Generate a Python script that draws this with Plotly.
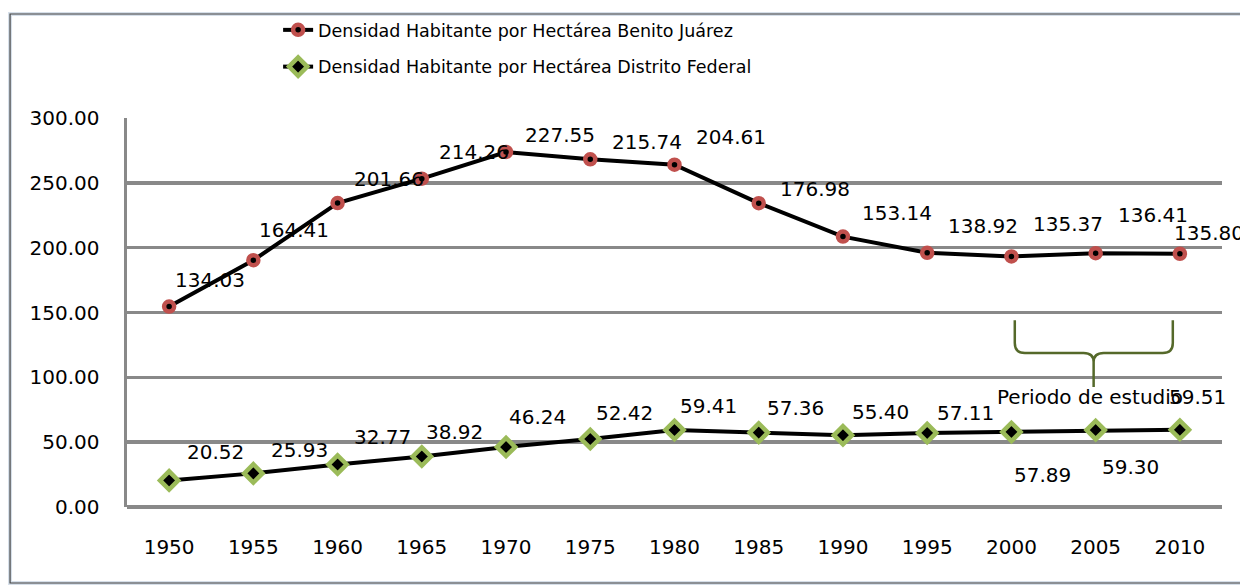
import plotly.graph_objects as go

# ---- data ----
years = [1950, 1955, 1960, 1965, 1970, 1975, 1980, 1985, 1990, 1995, 2000, 2005, 2010]
year_labels = [str(y) for y in years]
# Stacked line chart: Benito Juárez values are stacked on top of Distrito Federal
bj_density = [134.03, 164.41, 201.66, 214.26, 227.55, 215.74, 204.61, 176.98, 153.14, 138.92, 135.37, 136.41, 135.80]
df_density = [20.52, 25.93, 32.77, 38.92, 46.24, 52.42, 59.41, 57.36, 55.40, 57.11, 57.89, 59.30, 59.51]
y_ticks = [0, 50, 100, 150, 200, 250, 300]

name_bj = "Densidad Habitante por Hectárea Benito Juárez"
name_df = "Densidad Habitante por Hectárea Distrito Federal"

# ---- label pixel offsets (style / position, not data) ----
bj_dx = [41, 41, 51, 52, 54, 57, 56, 56, 54, 56, 57, 57, 29]
bj_dy = [-27, -30, -24, -27, -17, -17, -28, -14, -24, -27, -32, -38, -21]
df_dx = [46, 46, 45, 33, 31, 34, 34, 37, 38, 38, 31, 35, 18]
df_dy = [-28, -23, -28, -25, -30, -26, -24, -25, -23, -20, 43, 37, -33]

RED = "#c0504d"
GREEN = "#9bbb59"
GRID = "#898989"
OLIVE = "#55692a"
FONT = "DejaVu Sans"

fig = go.Figure()
fig.add_trace(go.Scatter(
    x=years, y=df_density, name=name_df, stackgroup="s", fill="none",
    mode="lines+markers", legendgroup="b", legendrank=2,
    line=dict(color="black", width=4),
    marker=dict(symbol="diamond", size=14, color="black", line=dict(color=GREEN, width=4.5)),
))
fig.add_trace(go.Scatter(
    x=years, y=bj_density, name=name_bj, stackgroup="s", fill="none",
    mode="lines+markers", legendgroup="a", legendrank=1,
    line=dict(color="black", width=4),
    marker=dict(symbol="circle", size=10, color="black", line=dict(color=RED, width=4.5)),
))

annotations = []
for i, yr in enumerate(years):
    top = df_density[i] + bj_density[i]
    annotations.append(dict(
        x=yr, y=top, xref="x", yref="y", text=f"{bj_density[i]:.2f}", showarrow=False,
        xanchor="center", yanchor="middle", xshift=bj_dx[i], yshift=-bj_dy[i],
        font=dict(family=FONT, size=20, color="black"),
    ))
    annotations.append(dict(
        x=yr, y=df_density[i], xref="x", yref="y", text=f"{df_density[i]:.2f}", showarrow=False,
        xanchor="center", yanchor="middle", xshift=df_dx[i], yshift=-df_dy[i],
        font=dict(family=FONT, size=20, color="black"),
    ))

# "Periodo de estudio" text under the bracket
annotations.append(dict(
    x=2004.65, y=84.8, xref="x", yref="y", text="Periodo de estudio", showarrow=False,
    xanchor="center", yanchor="middle", font=dict(family=FONT, size=20, color="black"),
))

# curly bracket spanning the study period (2000-2010)
xl, xm, xr = 2000.2, 2004.88, 2009.58
ytop, ymid, ystem = 144.0, 118.8, 92.5
bracket = (
    f"M {xl},{ytop} L {xl},{ymid + 7.7} Q {xl},{ymid} {xl + 0.6},{ymid} "
    f"L {xm - 0.6},{ymid} Q {xm},{ymid} {xm},{ymid - 7} L {xm},{ystem} "
    f"M {xm},{ymid - 7} Q {xm},{ymid} {xm + 0.6},{ymid} "
    f"L {xr - 0.6},{ymid} Q {xr},{ymid} {xr},{ymid + 7.7} L {xr},{ytop}"
)

shapes = [
    # chart border
    dict(type="rect", xref="paper", yref="paper", x0=-0.1068, x1=1.03, y0=-0.1954, y1=1.2674,
         line=dict(color="#d6dfe9", width=4), layer="below"),
    dict(type="rect", xref="paper", yref="paper", x0=-0.1068, x1=1.03, y0=-0.1954, y1=1.2674,
         line=dict(color="#404040", width=1.2), layer="below"),
    dict(type="path", xref="x", yref="y", path=bracket, line=dict(color=OLIVE, width=2.5)),
]

fig.update_layout(
    width=1240, height=587,
    margin=dict(l=127, r=18, t=118, b=80),
    paper_bgcolor="white", plot_bgcolor="white",
    font=dict(family=FONT, size=20, color="black"),
    showlegend=True,
    legend=dict(
        x=0.138, y=1.2725, xanchor="left", yanchor="top",
        traceorder="grouped", tracegroupgap=11,
        font=dict(family=FONT, size=17.5, color="black"),
        bgcolor="rgba(0,0,0,0)",
    ),
    xaxis=dict(
        range=[1947.5, 2012.5], tickmode="array", tickvals=years, ticktext=year_labels,
        showgrid=False, zeroline=False, showline=False, ticks="",
        tickfont=dict(family=FONT, size=20, color="black"), ticklabelstandoff=26,
    ),
    yaxis=dict(
        range=[0, 300], tickmode="array", tickvals=y_ticks, tickformat=".2f",
        showgrid=True, gridcolor=GRID, gridwidth=3.5,
        zeroline=True, zerolinecolor=GRID, zerolinewidth=3.5,
        showline=True, linecolor=GRID, linewidth=3.5, ticks="",
        tickfont=dict(family=FONT, size=20, color="black"), ticklabelstandoff=20,
    ),
    annotations=annotations,
    shapes=shapes,
    hovermode=False,
)

fig.write_html(
    "out.html",
    config={"displayModeBar": False, "staticPlot": True},
    post_script="document.body.style.margin='0';document.body.style.overflow='hidden';",
)
